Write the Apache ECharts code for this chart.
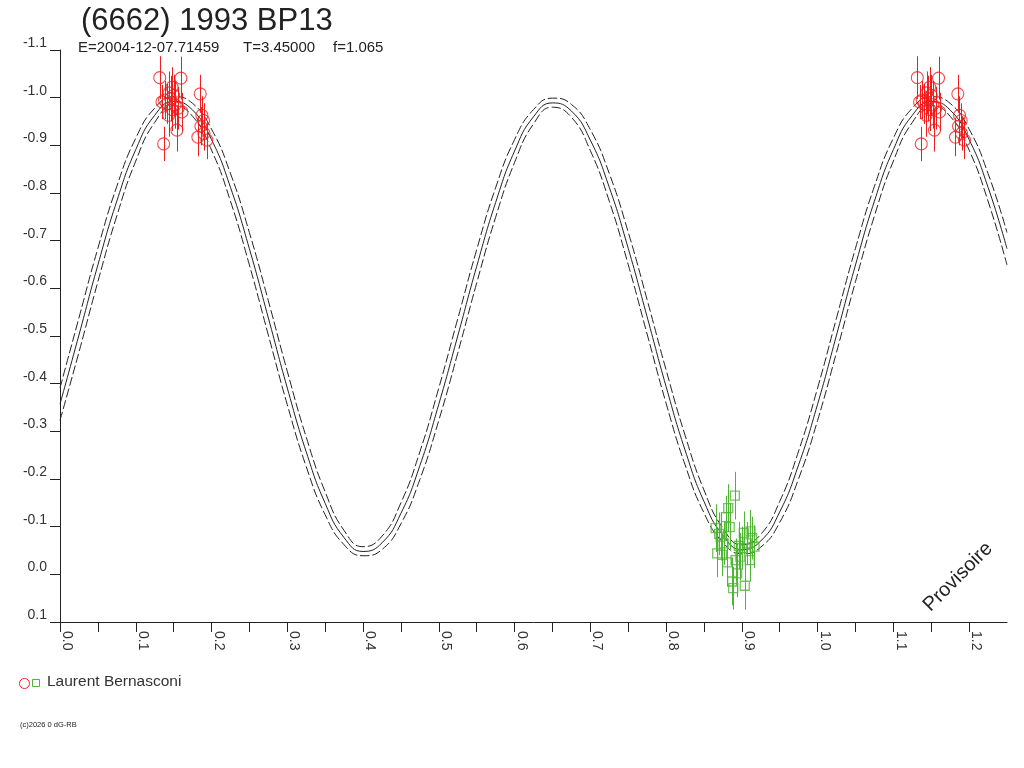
<!DOCTYPE html>
<html>
<head>
<meta charset="utf-8">
<script src="https://cdn.jsdelivr.net/npm/echarts@6/dist/echarts.min.js"></script>
<style>html,body{margin:0;padding:0;background:#fff}#c{width:1024px;height:768px}</style>
</head>
<body>
<div id="c"></div>
<script>
// Phase grid for the model curves
var phaseGrid = [0,0.025,0.05,0.075,0.1,0.125,0.15,0.175,0.2,0.225,0.25,0.275,0.3,0.325,0.35,0.375,0.4,0.425,0.45,0.475,
  0.5,0.525,0.55,0.575,0.6,0.625,0.65,0.675,0.7,0.725,0.75,0.775,0.8,0.825,0.85,0.875,0.9,0.925,0.95,0.975,
  1.0,1.025,1.05,1.075,1.1,1.125,1.15,1.175,1.2,1.225,1.25];
// Model curve (solid)
var modelMid = [-0.357,-0.502,-0.649,-0.783,-0.891,-0.963,-0.992,-0.974,-0.912,-0.812,-0.683,-0.538,-0.391,-0.257,-0.149,-0.077,-0.048,-0.066,-0.128,-0.228,
  -0.357,-0.500,-0.646,-0.780,-0.888,-0.960,-0.989,-0.972,-0.911,-0.812,-0.684,-0.540,-0.394,-0.261,-0.153,-0.082,-0.052,-0.070,-0.131,-0.230,
  -0.357,-0.502,-0.649,-0.783,-0.891,-0.963,-0.992,-0.974,-0.912,-0.812,-0.683];
// Upper envelope (dashed)
var modelUpper = [-0.391,-0.538,-0.684,-0.814,-0.915,-0.978,-1.002,-0.988,-0.934,-0.841,-0.717,-0.574,-0.426,-0.288,-0.173,-0.092,-0.058,-0.080,-0.150,-0.257,
  -0.391,-0.536,-0.681,-0.811,-0.912,-0.975,-0.999,-0.986,-0.933,-0.841,-0.718,-0.576,-0.429,-0.292,-0.177,-0.097,-0.062,-0.084,-0.153,-0.259,
  -0.391,-0.538,-0.684,-0.814,-0.915,-0.978,-1.002,-0.988,-0.934,-0.841,-0.717];
// Lower envelope (dashed)
var modelLower = [-0.323,-0.466,-0.614,-0.752,-0.867,-0.948,-0.983,-0.961,-0.890,-0.783,-0.649,-0.502,-0.356,-0.226,-0.125,-0.062,-0.039,-0.052,-0.106,-0.199,
  -0.323,-0.464,-0.611,-0.749,-0.864,-0.945,-0.980,-0.959,-0.889,-0.783,-0.650,-0.504,-0.359,-0.230,-0.129,-0.067,-0.043,-0.057,-0.109,-0.201,
  -0.323,-0.466,-0.614,-0.752,-0.867,-0.948,-0.983,-0.961,-0.890,-0.783,-0.649];

// Session 1 (red circles): phase, magnitude, error
var redPhase = [0.1316,0.1596,0.1851,0.1478,0.1440,0.1500,0.1460,0.1380,0.1346,0.1410,0.1520,0.1560,0.1434,0.1610,0.1480,0.1543,0.1368,0.1873,0.1895,0.1860,0.1820,0.1938,0.1900];
var redMag   = [-1.042,-1.041,-1.008,-1.022,-1.010,-1.005,-0.998,-0.995,-0.991,-0.987,-0.985,-0.978,-0.963,-0.970,-0.975,-0.932,-0.903,-0.963,-0.952,-0.940,-0.917,-0.911,-0.925];
var redErr   = [0.045,0.045,0.040,0.042,0.045,0.043,0.048,0.040,0.036,0.042,0.050,0.045,0.045,0.040,0.045,0.045,0.036,0.040,0.036,0.040,0.040,0.040,0.036];

// Session 2 (green squares)
var greenPhase = [0.8908,0.8820,0.8790,0.8654,0.8840,0.8700,0.8720,0.8760,0.8675,0.8740,0.8807,0.8917,0.8872,0.8886,0.9039,0.8938,0.9026,0.9114,0.9136,0.9004,0.8980,0.9105,0.9167,0.9070,0.8960];
var greenMag   = [-0.165,-0.139,-0.120,-0.097,-0.099,-0.085,-0.079,-0.065,-0.044,-0.041,-0.025,-0.030,0.015,0.029,0.024,-0.002,-0.087,-0.090,-0.076,-0.055,-0.037,-0.030,-0.058,-0.065,-0.060];
var greenErr   = [0.050,0.050,0.045,0.050,0.050,0.045,0.050,0.045,0.050,0.045,0.050,0.045,0.050,0.045,0.050,0.050,0.045,0.045,0.045,0.045,0.050,0.045,0.045,0.045,0.050];

var xTicks = [0,0.1,0.2,0.3,0.4,0.5,0.6,0.7,0.8,0.9,1.0,1.1,1.2];

var RED = '#f01e1e', GREEN = '#4fb535', INK = '#222';
var FONT = 'Liberation Sans, Arial, sans-serif';

function zip(xs, ys){ return xs.map(function(x,i){ return [x, ys[i]]; }); }
function pts(ph, mg, shift){ return ph.map(function(p,i){ return [p+shift, mg[i]]; }); }
function bars(ph, mg, er, shift){ return ph.map(function(p,i){ return [p+shift, mg[i]-er[i], mg[i]+er[i]]; }); }

function errBar(color){
  return function(params, api){
    var x = api.value(0);
    var a = api.coord([x, api.value(1)]);
    var b = api.coord([x, api.value(2)]);
    var px = Math.round(a[0]) + 0.5;
    return {type:'line', shape:{x1:px,y1:a[1],x2:px,y2:b[1]}, style:{stroke:color, lineWidth:1}};
  };
}

var chart = echarts.init(document.getElementById('c'), null, {renderer:'canvas'});

var dashedStyle = {color:INK, width:1, type:[9,3]};

var option = {
  animation:false,
  backgroundColor:'#fff',
  title:{text:'(6662) 1993 BP13', left:76, top:1,
    textStyle:{fontFamily:FONT, fontSize:31, fontWeight:'normal', color:INK}},
  grid:{left:60, right:17, top:50, bottom:146, containLabel:false},
  xAxis:{type:'value', min:0, max:1.25, interval:0.05,
    axisLine:{show:true, onZero:false, lineStyle:{color:INK, width:1}},
    axisTick:{show:true, length:10, interval:0, lineStyle:{color:INK}},
    splitLine:{show:false},
    axisLabel:{show:true, interval:0, rotate:-90, margin:9, fontFamily:FONT, fontSize:14, color:'#333',
      verticalAlign:'bottom', showMaxLabel:false,
      formatter:function(v){
        for (var i=0;i<xTicks.length;i++){ if (Math.abs(v-xTicks[i])<1e-6) return xTicks[i].toFixed(1); }
        return '';
      }}
  },
  yAxis:{type:'value', inverse:true, min:-1.1, max:0.1, interval:0.1,
    axisLine:{show:true, onZero:false, lineStyle:{color:INK, width:1}},
    axisTick:{show:true, length:10, lineStyle:{color:INK}},
    splitLine:{show:false},
    axisLabel:{show:true, margin:13, fontFamily:FONT, fontSize:14, color:'#333', verticalAlign:'bottom',
      formatter:function(v){ if (Math.abs(v)<1e-9) return '0.0'; return v.toFixed(1); }}
  },
  series:[
    {type:'line', data:zip(phaseGrid, modelUpper), smooth:true, showSymbol:false, lineStyle:dashedStyle, z:1, silent:true},
    {type:'line', data:zip(phaseGrid, modelLower), smooth:true, showSymbol:false, lineStyle:dashedStyle, z:1, silent:true},
    {type:'line', data:zip(phaseGrid, modelMid), smooth:true, showSymbol:false, lineStyle:{color:INK, width:1}, z:1, silent:true},
    {type:'custom', renderItem:errBar(RED), data:bars(redPhase, redMag, redErr, 0).concat(bars(redPhase, redMag, redErr, 1)), encode:{x:0, y:[1,2]}, z:3, silent:true},
    {type:'custom', renderItem:errBar(GREEN), data:bars(greenPhase, greenMag, greenErr, 0), encode:{x:0, y:[1,2]}, z:3, silent:true},
    {type:'scatter', name:'Laurent Bernasconi', data:pts(redPhase, redMag, 0).concat(pts(redPhase, redMag, 1)), symbol:'circle', symbolSize:12,
      itemStyle:{color:'rgba(0,0,0,0)', borderColor:RED, borderWidth:1.1}, z:4, silent:true},
    {type:'scatter', name:'Laurent Bernasconi ', data:pts(greenPhase, greenMag, 0), symbol:'rect', symbolSize:9,
      itemStyle:{color:'rgba(0,0,0,0)', borderColor:GREEN, borderWidth:1.3}, z:4, silent:true}
  ],
  graphic:[
    {type:'text', left:78, top:40, style:{text:'E=2004-12-07.71459', fontFamily:FONT, fontSize:15, fill:INK}},
    {type:'text', left:243, top:40, style:{text:'T=3.45000', fontFamily:FONT, fontSize:15, fill:INK}},
    {type:'text', left:333, top:40, style:{text:'f=1.065', fontFamily:FONT, fontSize:15, fill:INK}},
    {type:'circle', shape:{cx:24.5, cy:683.5, r:5}, style:{fill:'none', stroke:RED, lineWidth:1}},
    {type:'rect', shape:{x:32.5, y:679.5, width:7, height:7}, style:{fill:'none', stroke:GREEN, lineWidth:1}},
    {type:'text', left:47, top:674, style:{text:'Laurent Bernasconi', fontFamily:FONT, fontSize:15.5, fill:'#333'}},
    {type:'text', left:20, top:721, style:{text:'(c)2026 0 dG-RB', fontFamily:FONT, fontSize:7.5, fill:INK}},
    {type:'text', x:958, y:577, rotation:Math.PI/4, style:{text:'Provisoire', fontFamily:FONT, fontSize:20, fill:INK, align:'center', verticalAlign:'middle'}}
  ]
};
chart.setOption(option);
</script>
</body>
</html>
